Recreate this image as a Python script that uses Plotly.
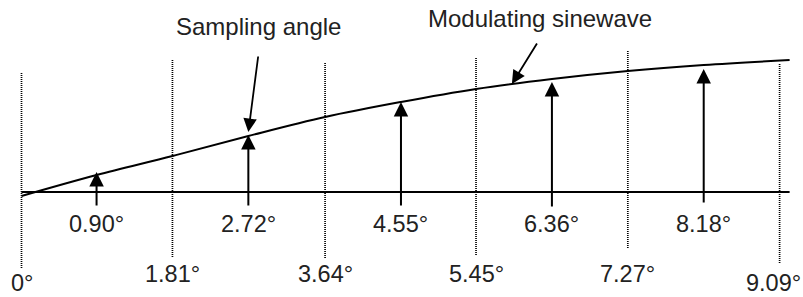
import plotly.graph_objects as go

# ---- data ----
sample_deg = [0.90, 2.72, 4.55, 6.36, 8.18]
sample_labels = ["0.90°", "2.72°", "4.55°", "6.36°", "8.18°"]
sample_tip = [20, 57, 90, 110, 123]
sample_base = [-15, -15, -15, -16, -12]

boundary_deg = [0, 1.81, 3.64, 5.45, 7.27, 9.09]
boundary_labels = ["0°", "1.81°", "3.64°", "5.45°", "7.27°", "9.09°"]
boundary_top = [120, 132, 130, 135, 141, 129]
boundary_bottom = [-76, -65, -66, -63, -56, -71]

curve_deg = [0, 0.90, 1.81, 2.72, 3.64, 4.55, 5.45, 6.36, 7.27, 8.18, 9.21]
curve_amp = [-4, 17, 36, 56, 75, 90, 103, 113, 121, 127, 132]

pointer_texts = ["Sampling angle", "Modulating sinewave"]
pointer_deg = [2.72, 5.88]
pointer_amp = [60, 108]

FONT = "Liberation Sans, Arial, Helvetica, sans-serif"
TXT = "#222222"

fig = go.Figure()

# dotted boundary lines
for d, t, b in zip(boundary_deg, boundary_top, boundary_bottom):
    fig.add_trace(go.Scatter(x=[d, d], y=[b, t], mode="lines",
                             line=dict(color="black", width=1.7, dash="1px,1px"),
                             hoverinfo="skip"))

# baseline
fig.add_trace(go.Scatter(x=[curve_deg[0], curve_deg[-1]], y=[0, 0], mode="lines",
                         line=dict(color="black", width=2), hoverinfo="skip"))

# modulating sinewave
fig.add_trace(go.Scatter(x=curve_deg, y=curve_amp, mode="lines",
                         line=dict(color="black", width=2, shape="spline", smoothing=1.0),
                         hoverinfo="skip"))

annotations = []
# sample arrows + labels
for d, t, b, lab in zip(sample_deg, sample_tip, sample_base, sample_labels):
    annotations.append(dict(x=d, y=t, ax=d, ay=b, xref="x", yref="y", axref="x", ayref="y",
                            text="", showarrow=True, arrowhead=2, arrowsize=1.45,
                            arrowwidth=2, arrowcolor="black", standoff=0))
    annotations.append(dict(x=d, y=-32, xref="x", yref="y", text=lab, showarrow=False,
                            xanchor="center", yanchor="middle",
                            font=dict(family=FONT, size=23.5, color=TXT)))

# boundary labels
n = len(boundary_deg)
for i, (d, lab) in enumerate(zip(boundary_deg, boundary_labels)):
    ly = -91 if i in (0, n - 1) else -82
    xs = -6 if i == n - 1 else 0
    annotations.append(dict(x=d, y=ly, xref="x", yref="y", text=lab, showarrow=False,
                            xanchor="center", yanchor="middle", xshift=xs,
                            font=dict(family=FONT, size=23.5, color=TXT)))

# pointer arrows with their texts
pointer_tail = [(10, -77), (26, -42)]
pointer_text_pos = [(2.836, 166), (6.217, 174)]
for txt, d, a, (tx, ty), (px, py) in zip(pointer_texts, pointer_deg, pointer_amp,
                                          pointer_tail, pointer_text_pos):
    annotations.append(dict(x=d, y=a, xref="x", yref="y", ax=tx, ay=ty,
                            text="", showarrow=True, arrowhead=2, arrowsize=1.5,
                            arrowwidth=1.8, arrowcolor="black", standoff=0))
    annotations.append(dict(x=px, y=py, xref="x", yref="y", text=txt, showarrow=False,
                            xanchor="center", yanchor="middle",
                            font=dict(family=FONT, size=24, color=TXT)))

fig.update_layout(
    width=803, height=297, autosize=False,
    margin=dict(l=0, r=0, t=0, b=0, pad=0),
    paper_bgcolor="white", plot_bgcolor="white",
    showlegend=False, hovermode=False,
    xaxis=dict(range=[-0.2578, 9.3705], visible=False, fixedrange=True),
    yaxis=dict(range=[-105, 192], visible=False, fixedrange=True),
    annotations=annotations,
)

fig.write_html("out.html", config={"displayModeBar": False},
               post_script="document.body.style.margin='0';document.body.style.overflow='hidden';")
